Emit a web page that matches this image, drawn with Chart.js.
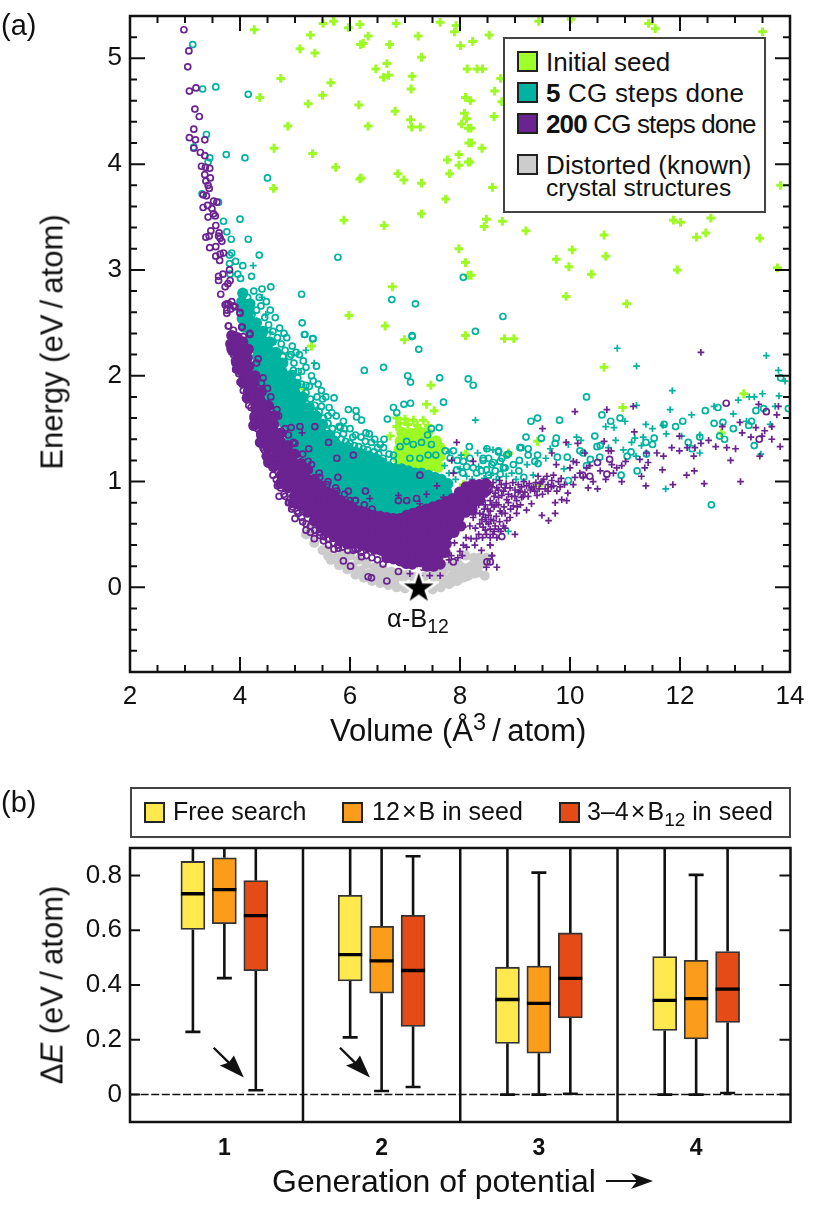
<!DOCTYPE html>
<html>
<head>
<meta charset="utf-8">
<script src="https://cdn.jsdelivr.net/npm/chart.js@4/dist/chart.umd.min.js"></script>
<style>
html, body { margin: 0; padding: 0; background: #fff; }
#page { position: relative; width: 830px; height: 1207px; overflow: hidden; font-family: "Liberation Sans", Arial, sans-serif; color: #111; }
canvas { position: absolute; left: 0; }
.t { position: absolute; white-space: nowrap; line-height: 1; }
.rot { transform: translate(-50%, -50%) rotate(-90deg); }
.box { position: absolute; background: #fff; border: 2px solid #444; box-sizing: border-box; }
.sw { position: absolute; width: 21px; height: 21px; box-sizing: border-box; border: 2px solid #222; }
sub, sup { font-size: 0.76em; line-height: 0; }
</style>
</head>
<body>
<div id="page">
  <canvas id="energyChart" width="830" height="740" style="top:0"></canvas>
  <canvas id="boxChart" width="830" height="427" style="top:780px"></canvas>

  <div class="t" style="left:1px;top:11px;font-size:29px">(a)</div>
  <div class="t" style="left:1px;top:788px;font-size:29px">(b)</div>

  <div class="t rot" style="left:52px;top:342px;font-size:31px">Energy (eV&#8201;/&#8201;atom)</div>
  <div class="t" style="left:330px;top:715px;font-size:31px">Volume (Å<sup>3</sup>&#8201;/&#8201;atom)</div>
  <div class="t" style="left:387px;top:606px;font-size:25.5px">α-B<sub>12</sub></div>

  <div class="box" style="left:503px;top:37px;width:263px;height:176px"></div>
  <div class="sw" style="left:517px;top:51px;background:#9EFF2A"></div>
  <div class="sw" style="left:517px;top:82px;background:#00B3A0"></div>
  <div class="sw" style="left:517px;top:113px;background:#6B2391"></div>
  <div class="sw" style="left:517px;top:154px;background:#CCCCCC"></div>
  <div class="t" style="left:546px;top:49px;font-size:26px">Initial seed</div>
  <div class="t" style="left:546px;top:80px;font-size:26px;letter-spacing:0.2px"><b>5</b> CG steps done</div>
  <div class="t" style="left:546px;top:111px;font-size:26px;letter-spacing:-0.85px"><b>200</b> CG steps done</div>
  <div class="t" style="left:546px;top:152px;font-size:26px;letter-spacing:0.1px">Distorted (known)</div>
  <div class="t" style="left:546px;top:176px;font-size:24.5px">crystal structures</div>

  <div class="box" style="left:130px;top:787px;width:661px;height:51px"></div>
  <div class="sw" style="left:144px;top:802px;background:#FFE94F"></div>
  <div class="sw" style="left:342px;top:802px;background:#FB9C1B"></div>
  <div class="sw" style="left:559px;top:802px;background:#E54B16"></div>
  <div class="t" style="left:173px;top:799px;font-size:25px">Free search</div>
  <div class="t" style="left:372px;top:799px;font-size:25px">12&#8202;×&#8202;B in seed</div>
  <div class="t" style="left:587px;top:799px;font-size:25px">3–4&#8202;×&#8202;B<sub>12</sub> in seed</div>

  <div class="t rot" style="left:52px;top:985px;font-size:31px">Δ<i>E</i> (eV&#8201;/&#8201;atom)</div>
  <div class="t" style="left:272px;top:1165px;font-size:32px">Generation of potential</div>
  <svg style="position:absolute;left:604px;top:1170px" width="50" height="22">
    <path d="M2 11 H36" stroke="#111" stroke-width="2.2"/>
    <path d="M49 11 L27 3 L33 11 L27 19 Z" fill="#111"/>
  </svg>
</div>

<script>
// (a) volume, energy
const seedPlus = [[4.26,5.27],[5.51,5.33],[5.70,5.35],[5.97,5.29],[6.18,5.32],[6.84,5.33],[7.64,5.34],[7.93,5.31],[7.90,5.25],[5.28,5.22],[5.09,5.09],[5.36,5.05],[6.19,5.13],[6.24,5.14],[6.33,5.21],[6.72,5.13],[7.24,5.21],[8.01,5.12],[7.30,5.01],[6.47,4.90],[6.67,4.95],[6.61,4.82],[6.70,4.84],[7.13,4.83],[7.11,4.71],[8.13,4.90],[4.74,4.81],[5.65,4.77],[5.50,4.65],[4.36,4.63],[5.24,4.57],[6.16,4.56],[6.82,4.50],[8.10,4.63],[7.10,4.42],[7.12,4.35],[7.28,4.35],[4.87,4.36],[6.33,4.36],[8.08,4.48],[8.12,4.43],[8.03,4.38],[8.15,4.34],[4.62,4.15],[5.32,4.10],[8.16,4.20],[7.77,4.04],[7.98,4.09],[7.98,3.99],[8.15,4.02],[5.74,3.97],[6.18,3.86],[6.20,3.87],[6.87,3.91],[6.98,3.85],[7.30,3.82],[7.81,3.91],[4.61,3.77],[7.74,3.67],[7.30,3.53],[5.89,3.47],[6.62,3.42],[7.98,3.20],[8.10,3.07],[8.15,2.95],[6.77,2.84],[5.98,2.57],[6.64,2.47],[6.99,2.34],[8.10,2.38],
  [8.23,5.16],[8.53,5.22],[9.43,5.35],[10.02,5.37],[11.43,5.33],[11.55,5.28],[13.50,5.25],[8.31,4.90],[8.41,4.90],[8.74,4.81],[8.63,4.69],[8.76,4.59],[8.19,4.60],[8.62,4.45],[8.20,4.34],[8.21,4.20],[8.40,4.15],[8.18,4.02],[8.59,3.78],[13.83,3.80],[8.48,3.48],[8.77,3.46],[8.44,3.41],[11.88,3.47],[12.01,3.45],[12.56,3.49],[9.20,3.37],[10.62,3.33],[12.47,3.35],[12.30,3.31],[13.45,3.30],[10.04,3.19],[9.75,3.10],[10.65,3.13],[9.98,3.03],[10.39,2.96],[11.95,3.00],[13.77,3.02],[8.20,2.95],[9.93,2.75],[11.03,2.68],[8.81,2.35],[8.98,2.35],
  [10.62,2.08],[10.96,1.70],[9.41,1.38],[8.88,1.27],[13.16,1.83],[12.75,1.46],[9.44,.96],[5.30,2.28],[7.47,1.91],[7.39,1.73],[7.53,1.67],[5.16,1.88],[6.85,1.60],[7.00,1.59],[7.15,1.58],[7.33,1.58],[6.85,1.52],[6.73,1.43],[8.10,1.26],[8.06,.97],[5.82,.83],[6.90,1.55],[7.05,1.54],[7.22,1.53],[7.42,1.53]];
const seedCore = [[6.95,1.46],[7.10,1.45],[7.25,1.47],[7.40,1.46],[6.92,1.38],[7.05,1.37],[7.18,1.39],[7.31,1.38],[7.44,1.37],[7.56,1.38],[6.90,1.30],[7.03,1.31],[7.16,1.29],[7.29,1.30],[7.42,1.31],[7.55,1.30],[7.63,1.32],[6.88,1.22],[7.01,1.23],[7.14,1.22],[7.27,1.21],[7.40,1.23],[7.53,1.22],[7.63,1.24],[6.94,1.15],[7.07,1.14],[7.20,1.16],[7.33,1.14],[7.46,1.15],[7.60,1.14]];

const cg5Rings = [[3.14,5.13],[3.32,4.71],[3.56,4.73],[4.15,4.66],[3.39,4.28],[3.16,4.16],[3.75,4.09],[4.09,4.06],[3.45,4.06],[3.42,4.02],[4.50,3.87],[3.31,3.72],[3.61,3.64],[3.70,3.46],[4.00,3.48],[3.76,3.36],[4.15,3.29],[3.84,3.29],[3.85,3.16],[3.81,3.14],[4.35,3.14],[5.78,3.12],[3.92,3.08],[3.81,3.06],[4.05,3.04],[4.21,2.94],[3.96,2.96],[4.01,2.92],[3.82,2.96],[8.06,2.93],[4.56,2.84],[5.12,2.77],[6.76,2.72],[7.19,2.68],[5.13,2.50],[5.17,2.39],[5.32,2.35],[7.13,2.37],
  [5.18,2.39],[5.33,2.35],[4.93,2.20],[5.15,2.14],[5.39,2.09],[4.97,2.05],[5.06,2.04],[5.33,1.95],[5.20,1.91],[5.48,1.86],[5.56,1.80],[5.71,1.79],[5.48,1.71],[5.67,1.65],[5.97,1.68],[6.11,1.67],[6.12,1.61],[6.21,1.58],[6.29,1.46],[5.88,1.57],[5.82,1.51],[5.88,1.45],[6.26,2.05],[6.61,2.08],[7.05,2.00],[7.10,1.94],[7.13,2.38],[7.25,2.25],[7.63,1.98],[8.15,1.97],[8.24,1.91],[7.70,1.75],[8.28,2.42],[8.78,2.56],[6.79,1.70],[6.85,1.65],[6.98,1.73],[7.10,1.74],[6.68,1.59],[7.48,1.50],[7.62,1.51],[7.41,1.44],[6.91,1.33],[7.03,1.38],[7.15,1.35],[7.30,1.37],[7.48,1.35],[7.09,1.22],[7.27,1.22],[7.42,1.25],[7.56,1.25],[6.79,1.25],[6.05,1.42],[6.39,1.37],[6.55,1.35],[6.61,1.32],[6.71,1.26],[6.79,1.19],[7.73,1.29],[7.88,1.29],[8.17,1.33],[8.49,1.31],[8.70,1.29],[9.09,1.32],[8.88,1.26],[8.42,1.22],[8.58,1.16],[8.73,1.19],[8.82,1.13],[8.97,1.16],[8.24,1.13],[8.06,1.19],[7.94,1.11],[8.18,1.22],
  [10.30,1.80],[9.29,1.57],[9.41,1.60],[9.81,1.58],[10.58,1.63],[10.74,1.57],[10.91,1.60],[9.20,1.42],[9.48,1.41],[9.75,1.41],[9.73,1.36],[9.11,1.32],[9.24,1.31],[9.41,1.25],[9.08,1.20],[9.24,1.25],[9.42,1.17],[9.36,1.19],[9.07,1.10],[9.16,1.04],[9.77,1.23],[9.95,1.23],[10.18,1.29],[10.24,1.27],[10.45,1.43],[10.49,1.33],[10.55,1.34],[10.54,1.23],[10.37,1.21],[10.30,1.15],[9.97,1.01],[10.93,1.06],[11.04,1.24],[11.11,1.28],[11.22,1.10],[11.39,1.26],[11.38,1.37],[11.50,1.35],[11.53,1.41],[11.71,1.54],[11.92,1.52],[12.05,1.57],[12.15,1.37],[12.22,1.31],[12.36,1.42],[12.46,1.67],[12.69,1.70],[12.62,1.55],[12.78,1.56],[12.57,.78],[12.72,1.43],[12.81,1.40],[12.97,1.50],[13.25,1.53],[13.30,1.57],[13.35,1.34],[13.38,1.67],[13.52,1.69],[13.83,1.98],[13.97,1.69],[8.42,1.20],[8.52,1.22],[8.61,1.18],[8.70,1.28],[8.76,1.22],[8.79,1.13],[8.64,1.10],[8.48,1.11],[8.39,1.10],[8.73,1.07],[8.85,1.25],
  [4.25,2.80],[4.30,2.62],[4.38,2.66],[4.45,2.55],[4.52,2.48],[4.60,2.42],[4.68,2.36],[4.75,2.30],[4.82,2.24],[4.90,2.18],[4.98,2.12],[5.05,1.98],[5.12,1.92],[5.20,1.84],[5.28,1.78],[5.36,1.72],[5.44,1.66],[5.52,1.60],[5.60,1.55],[5.68,1.50],[5.76,1.44],[5.84,1.40],[5.92,1.38],[6.00,1.36],[6.08,1.34],[6.16,1.33],[6.24,1.31],[6.32,1.30],[6.44,1.28],[6.52,1.26],[6.60,1.22],[4.35,2.74],[4.22,2.58],[4.14,2.74],[4.60,2.32],[4.78,2.18],[4.96,2.02],[5.16,1.78],[5.34,1.66],[5.58,1.48],[5.72,1.40],[5.96,1.34],[6.18,1.28],[7.82,1.22],[7.95,1.20],[8.12,1.14],[8.30,1.08],[8.52,1.06],[8.05,1.08],
  [4.55,2.62],[4.72,2.45],[4.85,2.36],[4.95,2.28],[5.08,2.20],[5.20,2.08],[5.30,2.00],[5.42,1.92],[5.50,1.78],[5.62,1.70],[5.75,1.62],[5.90,1.50],[6.00,1.50],[6.20,1.42],[6.35,1.45],[6.45,1.40],[6.50,1.32],[6.62,1.40],[4.40,2.82],[4.48,2.70],[4.64,2.55],[4.80,2.40],[5.02,2.22],[5.12,2.04],[5.26,1.90],[5.40,1.80],[5.60,1.62],[5.80,1.52],[6.10,1.44],[6.28,1.38]];
const cg5Plus = [[4.24,3.04],[4.40,2.74],[4.47,2.58],[4.55,2.41],[5.20,2.24],[5.35,2.12],[10.86,2.26],[11.21,2.09],[11.86,1.86],[11.82,1.68],[12.21,1.63],[13.57,2.19],[13.79,2.05],[13.91,1.95],[13.26,1.80],[13.35,1.80],[13.50,1.83],[13.06,1.77],[13.80,1.81],[12.62,1.71],[12.97,1.64],[13.73,1.71],[10.65,1.52],[10.80,1.51],[11.00,1.57],[11.21,1.72],[11.38,1.54],[11.50,1.50],[11.75,1.45],[11.69,1.53],[10.12,1.42],[10.20,1.39],[9.97,1.35],[10.83,1.39],[11.18,1.41],[11.12,1.37],[11.33,1.42],[11.30,1.34],[10.70,1.32],[10.97,1.30],[11.20,1.24],[9.64,1.31],[9.56,1.22],[9.22,1.16],[9.89,1.12],[9.33,1.06],[8.48,1.31],[11.74,.93],[8.88,.53],[12.36,1.27],[12.03,1.43],[13.47,1.26],[13.64,1.54],[13.21,1.57],[12.36,1.44],[8.28,1.58],[7.80,1.28],[8.02,1.25],[8.32,1.27],[8.60,1.30],[7.72,1.15],[7.80,1.08],[7.92,1.02],[8.00,1.12],[8.12,1.05],[8.22,1.02],[8.34,1.14],[8.44,1.03],[8.56,1.06],[8.66,1.02],[8.84,1.05],[8.94,1.08],[9.02,1.02]];
const cg5Core = [[4.05,2.78],[4.03,2.70],[4.06,2.62],[4.04,2.54],[4.07,2.46],[4.18,2.68],[4.16,2.60],[4.19,2.52],[4.17,2.44],[4.20,2.36],[4.18,2.28],[4.30,2.50],[4.28,2.42],[4.31,2.34],[4.29,2.26],[4.32,2.18],[4.30,2.10],[4.28,2.02],[4.42,2.42],[4.40,2.34],[4.43,2.26],[4.41,2.18],[4.44,2.10],[4.42,2.02],[4.40,1.94],[4.43,1.86],[4.54,2.32],[4.52,2.24],[4.55,2.16],[4.53,2.08],[4.56,2.00],[4.54,1.92],[4.52,1.84],[4.55,1.76],[4.66,2.22],[4.64,2.14],[4.67,2.06],[4.65,1.98],[4.68,1.90],[4.66,1.82],[4.64,1.74],[4.67,1.66],[4.65,1.58],[4.78,2.12],[4.76,2.04],[4.79,1.96],[4.77,1.88],[4.80,1.80],[4.78,1.72],[4.76,1.64],[4.79,1.56],[4.90,2.00],[4.88,1.94],[4.91,1.86],[4.89,1.78],[4.92,1.70],[4.90,1.62],[4.88,1.54],[4.91,1.46],[4.89,1.38],[5.02,1.92],[5.00,1.84],[5.03,1.76],[5.01,1.68],[5.04,1.60],[5.02,1.52],[5.00,1.44],[5.03,1.36],[5.01,1.28],[5.14,1.80],[5.12,1.72],[5.15,1.64],[5.13,1.56],[5.16,1.48],[5.14,1.40],[5.12,1.32],[5.15,1.24],[5.26,1.70],[5.24,1.62],[5.27,1.54],[5.25,1.46],[5.28,1.38],[5.26,1.30],[5.24,1.22],[5.27,1.14],[5.38,1.62],[5.36,1.54],[5.39,1.46],[5.37,1.38],[5.40,1.30],[5.38,1.22],[5.36,1.14],[5.39,1.06],[5.50,1.54],[5.48,1.46],[5.51,1.38],[5.49,1.30],[5.52,1.22],[5.50,1.14],[5.48,1.06],[5.51,.98],[5.62,1.44],[5.60,1.36],[5.63,1.28],[5.61,1.20],[5.64,1.12],[5.62,1.04],[5.60,.96],[5.74,1.36],[5.72,1.28],[5.75,1.20],[5.73,1.12],[5.76,1.04],[5.74,.96],[5.72,.88],[5.86,1.32],[5.84,1.24],[5.87,1.16],[5.85,1.08],[5.88,1.00],[5.86,.92],[5.84,.84],[5.98,1.30],[5.96,1.22],[5.99,1.14],[5.97,1.06],[6.00,.98],[5.98,.90],[5.96,.82],[6.10,1.28],[6.08,1.20],[6.11,1.12],[6.09,1.04],[6.12,.96],[6.10,.88],[6.08,.78],[6.22,1.26],[6.20,1.18],[6.23,1.10],[6.21,1.02],[6.24,.94],[6.22,.86],[6.20,.78],[6.34,1.24],[6.32,1.16],[6.35,1.08],[6.33,1.00],[6.36,.92],[6.34,.84],[6.32,.76],[6.46,1.22],[6.44,1.14],[6.47,1.06],[6.45,.98],[6.48,.90],[6.46,.82],[6.44,.74],[6.58,1.18],[6.56,1.10],[6.59,1.02],[6.57,.94],[6.60,.86],[6.58,.78],[6.56,.70],[6.70,1.14],[6.68,1.06],[6.71,.98],[6.69,.90],[6.72,.82],[6.70,.74],[6.68,.68],[6.82,1.12],[6.80,1.04],[6.83,.96],[6.81,.88],[6.84,.80],[6.82,.72],[6.94,1.12],[6.92,1.04],[6.95,.96],[6.93,.88],[6.96,.80],[6.94,.72],[7.06,1.10],[7.04,1.02],[7.07,.94],[7.05,.86],[7.08,.78],[7.06,.70],[7.18,1.08],[7.16,1.00],[7.19,.92],[7.17,.84],[7.20,.76],[7.30,1.08],[7.28,1.00],[7.31,.92],[7.29,.84],[7.32,.78],[7.42,1.06],[7.40,.98],[7.43,.90],[7.41,.82],[7.54,1.04],[7.52,.96],[7.55,.88],[7.53,.82],[7.66,1.02],[7.64,.94],[7.67,.86],[7.78,.98],[7.76,.90],[7.79,.84]];

const cg200Rings = [[2.98,5.27],[3.07,5.07],[3.05,4.92],[3.08,4.69],[3.20,4.72],[3.18,4.52],[3.26,4.45],[3.16,4.33],[3.08,4.25],[3.19,4.23],[3.36,4.23],[3.16,4.15],[3.28,4.11],[3.36,4.08],[3.30,3.98],[3.37,3.97],[3.45,3.96],[3.36,3.90],[3.46,3.87],[3.38,3.84],[3.42,3.80],[3.44,3.77],[3.33,3.71],[3.39,3.70],[3.52,3.65],[3.58,3.64],[3.41,3.61],[3.33,3.59],[3.49,3.58],[3.52,3.53],[3.55,3.51],[3.42,3.50],[3.56,3.42],[3.47,3.37],[3.62,3.35],[3.38,3.31],[3.44,3.32],[3.64,3.30],[3.67,3.27],[3.61,3.32],[3.45,3.21],[3.56,3.22],[3.70,3.16],[3.64,3.15],[3.56,3.13],[3.63,3.09],[3.81,3.00],[3.61,2.94],[3.69,2.96],[3.82,2.90],[3.61,2.90],[3.78,2.87],[3.73,2.84],[3.65,2.77],[3.73,2.67],[3.79,2.68],[3.85,2.70],[3.91,2.65],[3.83,2.63],[3.76,2.59],[4.00,2.59],[3.79,2.47],[3.88,2.43],[4.03,2.46],[4.18,2.40],[3.85,2.37],[3.94,2.35],[4.06,2.37],
  [3.79,2.47],[4.04,2.46],[4.18,2.39],[3.82,2.26],[4.33,2.16],[4.50,1.88],[4.39,1.93],[4.67,1.68],[4.55,1.71],[4.93,1.51],[5.09,1.52],[5.36,1.52],[4.88,1.44],[4.97,1.37],[5.25,1.31],[5.03,1.26],[5.24,1.19],[5.61,1.37],[6.06,1.25],[5.76,1.22],[5.78,1.04],[5.45,1.04],[5.58,.97],[5.76,.91],[5.97,.91],[6.28,.91],[6.00,.82],[6.09,.82],[7.27,1.06],[6.88,.82],[7.03,.82],[7.21,.84],[4.71,.86],[4.73,.99],[4.88,.80],[4.94,.74],[5.00,.65],[5.20,.54],[5.35,.46],[5.45,.49],[5.61,.40],[5.71,.36],[5.79,.37],[5.88,.25],[6.01,.20],[6.06,.35],[6.21,.29],[6.33,.10],[6.39,.09],[6.67,.06],[6.88,.15],[7.03,.21],[7.30,.19],[7.88,.24],[8.49,.24],[8.55,.24],[3.76,2.62],[3.76,2.68],[3.88,2.66],[4.00,2.60],
  [3.88,2.20],[3.92,2.06],[4.00,1.94],[4.06,1.86],[4.16,1.72],[4.24,1.62],[4.32,1.50],[4.42,1.32],[4.50,1.18],[4.60,1.06],[4.68,.96],[4.80,.88],[5.06,.70],[5.14,.62],[5.28,.52],[5.52,.44],[5.96,.35],[6.14,.36],
  [3.90,2.14],[3.98,2.02],[4.04,1.92],[4.12,1.80],[4.20,1.70],[4.28,1.56],[4.36,1.44],[4.44,1.30],[4.52,1.20],[4.66,1.02],[4.74,.94],[4.82,.86],[4.90,.80],[4.96,.76],[5.04,.72],[5.12,.66],[5.20,.60],[5.28,.58],[5.36,.54],[5.44,.52],[5.52,.48],[5.60,.46],[5.70,.42],[5.78,.40],[5.86,.38],[6.10,.36],[6.20,.33],[6.30,.30],[6.40,.28],[6.50,.26],[6.60,.22],
  [4.30,2.12],[4.42,1.98],[4.56,1.80],[4.70,1.62],[4.82,1.50],[5.00,1.36],[5.14,1.26],[5.30,1.16],[5.44,1.08],[5.60,1.00],[5.74,.94],[5.90,.88],[6.10,.82],[6.26,.78],[6.40,.74],
  [12.84,1.74],[13.57,1.66],[13.44,1.40],[10.72,1.21],[10.50,1.18],[10.67,1.07],[10.36,1.05],[10.23,1.06],[8.76,.48]];
const cg200Plus = [[12.38,2.22],[10.09,1.66],[10.67,1.68],[11.15,1.71],[9.50,1.50],[11.17,1.47],[9.93,1.37],[10.14,1.36],[10.62,1.38],[10.70,1.29],[10.75,1.29],[9.67,1.27],[9.75,1.16],[10.27,1.27],[10.06,1.19],[10.00,1.13],[10.12,1.18],[10.30,1.13],[10.36,1.15],[10.24,1.04],[10.18,1.08],[10.09,1.04],[10.06,.97],[10.42,1.00],[10.33,.94],[10.50,.93],[10.65,1.02],[10.55,1.10],[10.76,1.16],[10.85,1.13],[10.94,1.15],[10.79,1.08],[10.94,1.00],[11.01,1.19],[11.27,1.21],[11.39,1.27],[11.42,1.18],[11.58,1.27],[11.70,1.24],[11.36,1.13],[11.30,1.05],[11.38,.96],[11.68,1.11],[11.87,.97],[11.85,1.32],[11.99,1.43],[11.99,1.29],[12.13,1.32],[12.25,1.24],[12.27,1.32],[12.38,1.36],[12.52,1.39],[12.65,1.33],[12.77,1.52],[12.85,1.32],[13.01,1.31],[12.92,1.20],[12.26,1.10],[12.12,1.06],[12.44,.98],[13.10,1.00],[13.09,1.56],[13.13,1.46],[13.29,1.42],[13.43,1.73],[13.38,1.51],[13.54,1.48],[13.49,1.43],[13.67,1.52],[13.67,1.40],[13.76,1.63],[13.82,1.33],[13.79,1.71],[13.45,1.24],
  [9.09,.91],[9.21,.96],[9.42,1.05],[9.49,1.00],[9.58,1.05],[9.67,1.01],[9.79,1.00],[9.76,.91],[9.55,.93],[9.36,.91],[9.15,.86],[9.03,.82],[8.91,.94],[8.79,.91],[8.67,.94],[8.55,.91],[8.45,.94],[8.42,.82],[8.55,.82],[8.70,.85],[8.85,.83],[8.97,.77],[8.73,.72],[8.55,.72],[8.42,.69],[8.61,.63],[8.85,.63],[8.55,.55],[8.79,.58],[8.91,.66],[8.42,.57],[8.55,.47],[9.00,.50],[9.49,.68],[9.61,.63],[9.73,.70],[9.73,.80],[9.85,.83],[9.94,.82],[9.96,.89],[9.30,.79],[9.21,.73],[9.03,.70],[8.67,.47],[8.41,.47],[8.55,.40],[8.58,.30],
  [9.46,.98],[9.52,1.02],[9.60,.97],[9.66,.95],[9.44,.93],[9.70,1.06],[9.38,.99],[9.28,.92],[9.12,.95],[9.00,.92],[8.88,.88],[8.75,.97],[8.62,.86],[8.48,.88],[8.36,.98],[8.30,.88],[8.30,.78],[8.36,.70],[8.24,.66],[8.18,.58],[8.28,.56],[8.36,.60],[8.20,.46],[8.06,.40],[8.00,.34],[7.96,.28],[7.90,.42],
  [8.50,.97],[8.60,.99],[8.72,1.01],[8.84,.98],[8.96,.99],[9.06,.97],[9.16,1.00],[9.26,.98],[9.34,.95],[8.46,.78],[8.52,.68],[8.62,.76],[8.70,.78],[8.80,.76],[8.66,.67],[8.72,.62],[8.48,.62],[8.62,.53],[8.74,.53],[8.48,.50],[8.34,.50],[8.30,.46],[8.12,.38],[8.04,.30],[7.84,.30],[7.80,.26],
  [8.52,.90],[8.58,.95],[8.64,.89],[8.70,.92],[8.76,.87],[8.82,.94],[8.88,.80],[8.94,.86],[9.00,.86],[9.06,.90],[9.12,.85],[9.18,.90],[9.24,.86],[9.30,.94],[9.40,.87],[9.50,.88],[9.60,.91],[9.70,.96],[9.82,.95],[9.90,.97],[9.84,1.03],[8.44,.74],[8.50,.74],[8.58,.78],[8.66,.80],[8.76,.70],[8.82,.70],[8.92,.74],[9.04,.76],[9.10,.78],[8.46,.66],[8.56,.64],[8.64,.58],[8.70,.55],[8.40,.64],[8.34,.78],[8.40,.86],[8.28,.70],[8.82,.56],[8.52,.60],[8.60,.50],
  [5.13,1.46],[7.94,1.37],[7.85,1.20],[7.88,1.08],[8.24,1.19],[8.48,.19],[8.67,.19],[8.58,.30],[8.55,.40],[8.27,.40],[8.46,.54],[8.06,.57],[8.11,.47],[7.58,.96],[7.39,.88],[6.88,.87],[6.36,.84],[7.27,.79],[7.70,.85],[7.27,.11],[7.45,.11],[7.09,.13],[7.64,.11],[7.21,.27],[8.39,.35]];
const cg200Core = [[3.85,2.38],[3.83,2.30],[3.86,2.24],[3.95,2.36],[3.93,2.28],[3.96,2.20],[3.94,2.12],[3.97,2.06],[4.05,2.32],[4.03,2.24],[4.06,2.16],[4.04,2.08],[4.07,2.00],[4.05,1.94],[4.15,2.25],[4.13,2.17],[4.16,2.09],[4.14,2.01],[4.17,1.93],[4.15,1.85],[4.13,1.79],[4.27,2.00],[4.25,1.92],[4.28,1.84],[4.26,1.76],[4.29,1.68],[4.27,1.60],[4.25,1.53],[4.39,1.85],[4.37,1.77],[4.40,1.69],[4.38,1.61],[4.41,1.53],[4.39,1.45],[4.37,1.37],[4.51,1.72],[4.49,1.64],[4.52,1.56],[4.50,1.48],[4.53,1.40],[4.51,1.32],[4.49,1.24],[4.52,1.18],[4.63,1.62],[4.61,1.54],[4.64,1.46],[4.62,1.38],[4.65,1.30],[4.63,1.22],[4.61,1.14],[4.75,1.46],[4.73,1.38],[4.76,1.30],[4.74,1.22],[4.77,1.14],[4.75,1.06],[4.73,.98],[4.87,1.34],[4.85,1.26],[4.88,1.18],[4.86,1.10],[4.89,1.02],[4.87,.94],[4.99,1.26],[4.97,1.18],[5.00,1.10],[4.98,1.02],[5.01,.94],[4.99,.86],[4.97,.80],[5.11,1.17],[5.09,1.09],[5.12,1.01],[5.10,.93],[5.13,.85],[5.11,.77],[5.23,1.11],[5.21,1.03],[5.24,.95],[5.22,.87],[5.25,.79],[5.23,.71],[5.35,1.02],[5.33,.94],[5.36,.86],[5.34,.78],[5.37,.70],[5.35,.63],[5.47,.96],[5.45,.88],[5.48,.80],[5.46,.72],[5.49,.64],[5.47,.57],[5.59,.90],[5.57,.82],[5.60,.74],[5.58,.66],[5.61,.58],[5.59,.52],[5.71,.87],[5.69,.79],[5.72,.71],[5.70,.63],[5.73,.55],[5.71,.48],[5.83,.82],[5.81,.74],[5.84,.66],[5.82,.58],[5.85,.50],[5.83,.44],[5.95,.78],[5.93,.70],[5.96,.62],[5.94,.54],[5.97,.46],[5.95,.41],[6.07,.74],[6.05,.66],[6.08,.58],[6.06,.50],[6.09,.42],[6.19,.72],[6.17,.64],[6.20,.56],[6.18,.48],[6.21,.40],[6.31,.70],[6.29,.62],[6.32,.54],[6.30,.46],[6.33,.38],[6.43,.68],[6.41,.60],[6.44,.52],[6.42,.44],[6.45,.36],[6.55,.67],[6.53,.59],[6.56,.51],[6.54,.43],[6.57,.35],[6.67,.66],[6.65,.58],[6.68,.50],[6.66,.42],[6.69,.34],[6.67,.28],[6.79,.65],[6.77,.57],[6.80,.49],[6.78,.41],[6.81,.33],[6.79,.27],[6.91,.65],[6.89,.57],[6.92,.49],[6.90,.41],[6.93,.33],[6.91,.25],[7.03,.68],[7.01,.60],[7.04,.52],[7.02,.44],[7.05,.36],[7.03,.28],[7.01,.23],[7.15,.70],[7.13,.62],[7.16,.54],[7.14,.46],[7.17,.38],[7.15,.30],[7.13,.22],[7.27,.72],[7.25,.64],[7.28,.56],[7.26,.48],[7.29,.40],[7.27,.32],[7.25,.24],[7.39,.74],[7.37,.66],[7.40,.58],[7.38,.50],[7.41,.42],[7.39,.34],[7.37,.26],[7.40,.20],[7.51,.76],[7.49,.68],[7.52,.60],[7.50,.52],[7.53,.44],[7.51,.36],[7.49,.28],[7.52,.20],[7.63,.78],[7.61,.70],[7.64,.62],[7.62,.54],[7.65,.46],[7.63,.38],[7.61,.30],[7.64,.22],[7.75,.81],[7.73,.73],[7.76,.65],[7.74,.57],[7.77,.49],[7.75,.41],[7.73,.33],[7.87,.84],[7.85,.76],[7.88,.68],[7.86,.60],[7.89,.52],[7.99,.90],[7.97,.82],[8.00,.74],[7.98,.66],[8.01,.58],[8.11,.95],[8.09,.87],[8.12,.79],[8.10,.71],[8.23,.97],[8.21,.89],[8.24,.81],[8.22,.73],[8.35,.97],[8.33,.89],[8.36,.83],[8.47,.98],[8.45,.90]];

const knownPoints = [[5.20,.50],[5.35,.42],[5.50,.35],[5.60,.30],[5.65,.26],[5.80,.21],[5.95,.17],[6.10,.12],[6.25,.09],[6.40,.06],[6.55,.04],[6.70,.02],[6.85,.00],[7.00,-.01],[7.50,-.02],[7.65,.00],[7.80,.03],[7.95,.06],[8.05,.09],[8.15,.11],[8.25,.13],[8.33,.14],[8.45,.11],[5.75,.28],[5.90,.24],[6.05,.20],[6.20,.16],[6.35,.13],[6.50,.11],[6.65,.09],[6.80,.07],[6.95,.06],[7.55,.06],[7.70,.08],[7.85,.11],[8.00,.14],[8.10,.18],[8.20,.20],[8.30,.22],[8.35,.28],[8.10,.30],[7.95,.23],[7.80,.20],[6.00,.30],[6.15,.26],[6.30,.22],[6.45,.19],[6.60,.17],[6.75,.15],[6.90,.13],[7.05,.12],[7.70,.16],[5.58,.35],[5.40,.47],[5.28,.55],[5.86,.31],[8.48,.28],[8.40,.22],[8.25,.28],[7.15,.10],[7.35,.10],[7.50,.12],[7.65,.14],[7.60,.03],[7.85,.05],[8.10,.10],[8.00,.20],[7.90,.16]];
const starPoint = [[7.25,0]];

const volumeTicks = [2,4,6,8,10,12,14];
const volumeMinor = [2.5,3,3.5,4.5,5,5.5,6.5,7,7.5,8.5,9,9.5,10.5,11,11.5,12.5,13,13.5];
const energyTicks = [0,1,2,3,4,5];
const energyMinor = [-.8,-.6,-.4,-.2,.2,.4,.6,.8,1.2,1.4,1.6,1.8,2.2,2.4,2.6,2.8,3.2,3.4,3.6,3.8,4.2,4.4,4.6,4.8,5.2,5.4];

// (b) generation of potential, whiskers and boxes
const generations = [1,2,3,4];
const seriesOffset = [-0.2,0,0.2];
const freeLow = [.229,.209,0,0];
const freeQ1 = [.603,.415,.187,.234];
const freeMedian = [.733,.511,.347,.344];
const freeQ3 = [.851,.727,.465,.504];
const freeHigh = [1,1,1,1];
const twelveLow = [.425,.013,0,0];
const twelveQ1 = [.624,.370,.151,.203];
const twelveMedian = [.748,.488,.333,.350];
const twelveQ3 = [.864,.614,.469,.490];
const twelveHigh = [1,1,.81,.802];
const b12Low = [.016,.028,.003,.006];
const b12Q1 = [.452,.249,.280,.263];
const b12Median = [.653,.453,.424,.385];
const b12Q3 = [.781,.654,.590,.522];
const b12High = [1,.87,1,1];
const deltaTicks = [0,.2,.4,.6,.8];
const separators = [1.5,2.5,3.5];
const arrows = [[.932,.171,1.124,.062],[1.735,.171,1.926,.062]];

const GREEN = '#9EFA25', TEAL = '#00B3A0', PURPLE = '#6B2391', GRAY = '#CCCCCC';

function makeStar() {
    const c = document.createElement('canvas');
    c.width = 40; c.height = 40;
    const g = c.getContext('2d');
    g.beginPath();
    for (let i = 0; i < 10; i++) {
        const r = i % 2 ? 5.9 : 15.5;
        const a = -Math.PI / 2 + i * Math.PI / 5;
        g.lineTo(20 + r * Math.cos(a), 21 + r * Math.sin(a));
    }
    g.closePath();
    g.lineWidth = 5;
    g.strokeStyle = '#fff';
    g.stroke();
    g.fillStyle = '#000';
    g.fill();
    return c;
}

function scatterSet(data, style, color, radius, width, order) {
    return {
        data, order,
        pointStyle: style,
        pointRadius: radius,
        pointBorderWidth: width,
        pointBorderColor: color,
        pointBackgroundColor: style === 'circle' && width === 0 ? color : 'rgba(0,0,0,0)'
    };
}

// inward tick marks on all four sides, plus the frame
const energyFrame = {
    id: 'energyFrame',
    afterDatasetsDraw(chart) {
        const { ctx, chartArea: a, scales: { x, y } } = chart;
        ctx.save();
        ctx.strokeStyle = '#111';
        ctx.lineWidth = 2;
        const xMark = (list, len) => list.forEach(v => {
            const p = x.getPixelForValue(v);
            ctx.beginPath();
            ctx.moveTo(p, a.top); ctx.lineTo(p, a.top + len);
            ctx.moveTo(p, a.bottom); ctx.lineTo(p, a.bottom - len);
            ctx.stroke();
        });
        const yMark = (list, len) => list.forEach(v => {
            const p = y.getPixelForValue(v);
            ctx.beginPath();
            ctx.moveTo(a.left, p); ctx.lineTo(a.left + len, p);
            ctx.moveTo(a.right, p); ctx.lineTo(a.right - len, p);
            ctx.stroke();
        });
        xMark(volumeTicks, 15);
        xMark(volumeMinor, 7);
        yMark(energyTicks, 15);
        yMark(energyMinor, 7);
        ctx.lineWidth = 2.5;
        ctx.strokeRect(a.left, a.top, a.width, a.height);
        ctx.restore();
    }
};

const boxFrame = {
    id: 'boxFrame',
    afterDatasetsDraw(chart) {
        const { ctx, chartArea: a, scales: { x, y } } = chart;
        ctx.save();
        ctx.strokeStyle = '#111';
        ctx.lineWidth = 2;
        deltaTicks.forEach(v => {
            const p = y.getPixelForValue(v);
            ctx.beginPath();
            ctx.moveTo(a.left, p); ctx.lineTo(a.left + 10, p);
            ctx.moveTo(a.right, p); ctx.lineTo(a.right - 11, p);
            ctx.stroke();
        });
        ctx.lineWidth = 2.5;
        separators.forEach(v => {
            const p = x.getPixelForValue(v);
            ctx.beginPath();
            ctx.moveTo(p, a.top); ctx.lineTo(p, a.bottom);
            ctx.stroke();
        });
        ctx.strokeRect(a.left, a.top, a.width, a.height);
        // small arrows pointing at the lowest whiskers
        ctx.fillStyle = '#111';
        arrows.forEach(([x0, y0, x1, y1]) => {
            const ax = x.getPixelForValue(x0), ay = y.getPixelForValue(y0);
            const bx = x.getPixelForValue(x1), by = y.getPixelForValue(y1);
            ctx.lineWidth = 2.4;
            ctx.beginPath();
            ctx.moveTo(ax, ay); ctx.lineTo(bx - 14, by - 14);
            ctx.stroke();
            ctx.beginPath();
            ctx.moveTo(bx, by);
            ctx.lineTo(bx - 24, by - 12);
            ctx.lineTo(bx - 15, by - 15);
            ctx.lineTo(bx - 10, by - 22);
            ctx.closePath();
            ctx.fill();
        });
        ctx.restore();
    }
};

const tickFont = { family: '"Liberation Sans", Arial, sans-serif', size: 26 };

new Chart(document.getElementById('energyChart'), {
    type: 'scatter',
    data: {
        datasets: [
            { data: starPoint, order: 0, pointStyle: makeStar(), pointRadius: 15 },
            scatterSet(cg200Rings, 'circle', PURPLE, 3, 1.7, 1),
            scatterSet(cg200Plus, 'cross', PURPLE, 3.4, 1.7, 1),
            scatterSet(cg200Core, 'circle', PURPLE, 5.6, 0, 2),
            scatterSet(cg5Rings, 'circle', TEAL, 3, 1.7, 3),
            scatterSet(cg5Plus, 'cross', TEAL, 3.4, 1.7, 3),
            scatterSet(cg5Core, 'circle', TEAL, 5.6, 0, 4),
            scatterSet(seedPlus, 'cross', GREEN, 4.4, 3, 5),
            scatterSet(seedCore, 'circle', GREEN, 6, 0, 5),
            scatterSet(knownPoints, 'circle', GRAY, 5, 0, 6)
        ]
    },
    options: {
        responsive: false,
        animation: false,
        events: [],
        layout: { padding: { top: 12, right: 40, left: 0, bottom: 0 } },
        plugins: { legend: { display: false }, tooltip: { enabled: false } },
        scales: {
            x: {
                type: 'linear', min: 2, max: 14,
                grid: { display: false, drawTicks: false },
                border: { display: false },
                afterBuildTicks: s => { s.ticks = volumeTicks.map(value => ({ value })); },
                afterFit: s => { s.height = 68; s.paddingLeft = 0; s.paddingRight = 0; },
                ticks: { color: '#111', font: tickFont, padding: 9, maxRotation: 0, autoSkip: false }
            },
            y: {
                type: 'linear', min: -0.8, max: 5.4,
                grid: { display: false, drawTicks: false },
                border: { display: false },
                afterBuildTicks: s => { s.ticks = energyTicks.map(value => ({ value })); },
                afterFit: s => { s.width = 130; s.paddingTop = 0; s.paddingBottom = 0; },
                ticks: { color: '#111', font: tickFont, padding: 8, autoSkip: false }
            }
        }
    },
    plugins: [energyFrame]
});

function boxSets(off, q1, med, q3, low, high, color) {
    const xs = generations.map(g => g + off);
    const whisker = [];
    xs.forEach((x, i) => {
        whisker.push({ x, y: low[i] }, { x, y: q1[i] }, { x, y: null }, { x, y: q3[i] }, { x, y: high[i] }, { x, y: null });
    });
    const caps = [];
    xs.forEach((x, i) => caps.push({ x, y: low[i] }, { x, y: high[i] }));
    return [
        { type: 'scatter', data: xs.map((x, i) => ({ x, y: med[i] })), order: 1, pointStyle: 'line', pointRadius: 12, pointBorderWidth: 3.3, pointBorderColor: '#000' },
        { type: 'bar', data: xs.map((x, i) => ({ x, y: [q1[i], q3[i]] })), order: 2, grouped: false, barThickness: 24, backgroundColor: color, borderColor: '#333', borderWidth: 1.8, borderSkipped: false },
        { type: 'scatter', data: caps, order: 3, pointStyle: 'line', pointRadius: 7.5, pointBorderWidth: 2.6, pointBorderColor: '#111' },
        { type: 'line', data: whisker, order: 3, borderColor: '#111', borderWidth: 2.6, pointRadius: 0, spanGaps: false, tension: 0 }
    ];
}

new Chart(document.getElementById('boxChart'), {
    type: 'bar',
    data: {
        datasets: [
            ...boxSets(seriesOffset[0], freeQ1, freeMedian, freeQ3, freeLow, freeHigh, '#FFE94F'),
            ...boxSets(seriesOffset[1], twelveQ1, twelveMedian, twelveQ3, twelveLow, twelveHigh, '#FB9C1B'),
            ...boxSets(seriesOffset[2], b12Q1, b12Median, b12Q3, b12Low, b12High, '#E54B16'),
            { type: 'line', data: [{ x: 0.4, y: 0 }, { x: 4.6, y: 0 }], order: 4, borderColor: '#111', borderWidth: 1.5, borderDash: [8, 2.6], pointRadius: 0 }
        ]
    },
    options: {
        responsive: false,
        animation: false,
        events: [],
        layout: { padding: { top: 68, right: 39.5, left: 0, bottom: 0 } },
        plugins: { legend: { display: false }, tooltip: { enabled: false } },
        scales: {
            x: {
                type: 'linear', min: 0.4, max: 4.6, offset: false,
                grid: { display: false, drawTicks: false },
                border: { display: false },
                afterBuildTicks: s => { s.ticks = generations.map(value => ({ value })); },
                afterFit: s => { s.height = 85; s.paddingLeft = 0; s.paddingRight = 0; },
                ticks: { color: '#111', font: { family: tickFont.family, size: 23, weight: 'bold' }, padding: 13, maxRotation: 0, autoSkip: false, callback: v => String(v) }
            },
            y: {
                type: 'linear', min: -0.1, max: 0.9,
                grid: { display: false, drawTicks: false },
                border: { display: false },
                afterBuildTicks: s => { s.ticks = deltaTicks.map(value => ({ value })); },
                afterFit: s => { s.width = 130; s.paddingTop = 0; s.paddingBottom = 0; },
                ticks: { color: '#111', font: tickFont, padding: 8, autoSkip: false, callback: v => v === 0 ? '0' : v.toFixed(1) }
            }
        }
    },
    plugins: [boxFrame]
});
</script>
</body>
</html>
